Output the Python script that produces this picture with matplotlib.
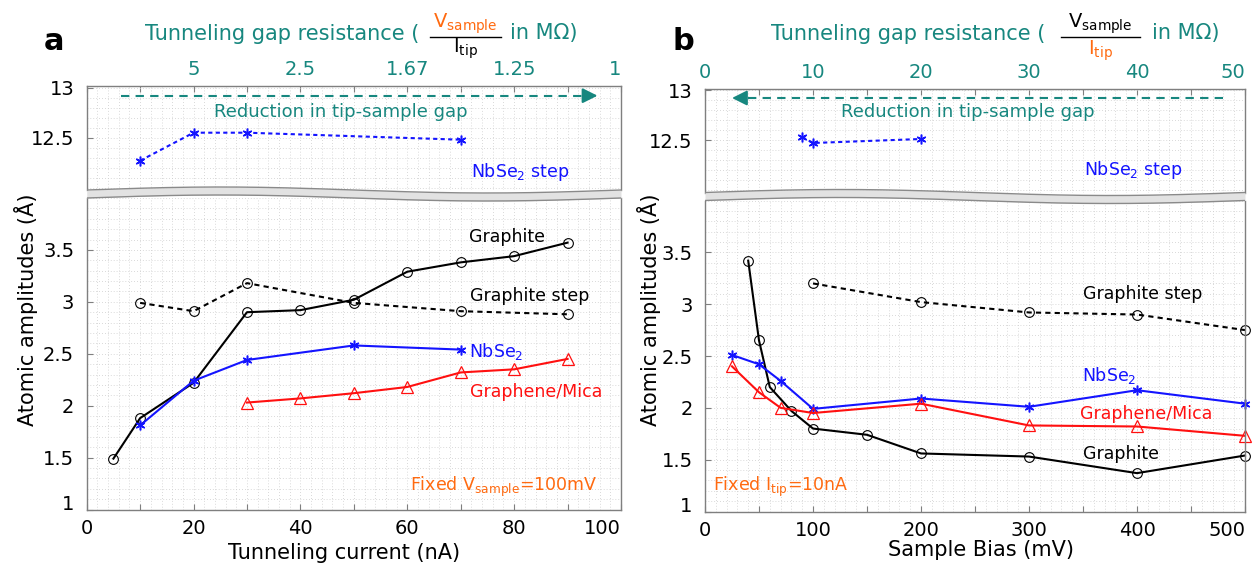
import numpy as np
import matplotlib
matplotlib.use("Agg")
import matplotlib.pyplot as plt
from matplotlib.ticker import MultipleLocator
from matplotlib.lines import Line2D

plt.rcParams['font.family'] = ['DejaVu Sans']
plt.rcParams['mathtext.default'] = 'regular'

W, H = 1256, 569
TEAL = '#17877f'
ORANGE = '#ff6a10'
BLUE = '#1414ff'
RED = '#ff1010'
GRID = '#cdcdcd'
SPINE = '#7f7f7f'

# ---- panel a: amplitude vs tunneling current (fixed bias 100 mV)
current_graphite = [5, 10, 20, 30, 40, 50, 60, 70, 80, 90]
graphite_a = [1.49, 1.88, 2.22, 2.90, 2.92, 3.02, 3.29, 3.38, 3.44, 3.57]
current_graphite_step = [10, 20, 30, 50, 70, 90]
graphite_step_a = [2.99, 2.91, 3.18, 2.99, 2.91, 2.88]
current_nbse2 = [10, 20, 30, 50, 70]
nbse2_a = [1.81, 2.24, 2.44, 2.58, 2.54]
current_mica = [30, 40, 50, 60, 70, 80, 90]
mica_a = [2.03, 2.07, 2.12, 2.18, 2.32, 2.35, 2.45]
current_nbse2_step = [10, 20, 30, 70]
nbse2_step_a = [12.27, 12.55, 12.55, 12.48]
resistance_labels_a = ['5', '2.5', '1.67', '1.25', '1']

# ---- panel b: amplitude vs sample bias (fixed current 10 nA)
bias_graphite = [40, 50, 60, 80, 100, 150, 200, 300, 400, 500]
graphite_b = [3.42, 2.65, 2.20, 1.97, 1.80, 1.74, 1.56, 1.53, 1.37, 1.54]
bias_graphite_step = [100, 200, 300, 400, 500]
graphite_step_b = [3.20, 3.02, 2.92, 2.90, 2.75]
bias_nbse2 = [25, 50, 70, 100, 200, 300, 400, 500]
nbse2_b = [2.51, 2.42, 2.26, 1.99, 2.09, 2.01, 2.17, 2.04]
bias_mica = [25, 50, 70, 100, 200, 300, 400, 500]
mica_b = [2.40, 2.15, 2.00, 1.95, 2.04, 1.83, 1.82, 1.73]
bias_nbse2_step = [90, 100, 200]
nbse2_step_b = [12.53, 12.47, 12.51]
resistance_labels_b = ['0', '10', '20', '30', '40', '50']


def px_ax(left, top, right, bottom):
    return fig.add_axes([left / W, 1 - bottom / H, (right - left) / W, (bottom - top) / H])


def ftext(x, y, s, **kw):
    return fig.text(x / W, 1 - y / H, s, **kw)


def style_axes(ax, xminor, yminor):
    for sp in ax.spines.values():
        sp.set_color(SPINE)
        sp.set_linewidth(1)
    ax.xaxis.set_minor_locator(MultipleLocator(xminor))
    ax.yaxis.set_minor_locator(MultipleLocator(yminor))
    ax.grid(True, which='both', color=GRID, linestyle=(0, (1, 2.5)), linewidth=0.6)
    ax.set_axisbelow(True)
    ax.tick_params(which='minor', length=0)
    ax.tick_params(which='major', direction='in', length=4, color=SPINE,
                   labelsize=14, labelcolor='black')


def draw_break(left, right, top, bottom):
    ax = px_ax(left, top - 6, right, bottom + 6)
    ax.set_xlim(0, 1)
    ax.set_ylim(bottom + 6, top - 6)
    ax.axis('off')
    t = np.linspace(0, 1, 300)
    wave = 3 * np.sin(2 * np.pi * t)
    ax.fill_between(t, top - wave, bottom - wave, color='#e2e2e2', lw=0)
    ax.plot(t, top - wave, color='#8a8a8a', lw=1)
    ax.plot(t, bottom - wave, color='#8a8a8a', lw=1)


fig = plt.figure(figsize=(W / 100, H / 100), dpi=100)

line_kw = dict(lw=1.5)
circ = dict(marker='o', ms=7, mfc='none', mew=0.8)
star = dict(marker=(6, 2, 0), ms=7, mew=1.1)
tri = dict(marker='^', ms=8, mfc='none', mew=0.9)

panels = [
    dict(left=86.7, right=621, ttop=86, tbot=190, btop=198, bbot=509.5, xmax=100,
         xmaj=10, xminor=2, tylim=(11.977, 13.017)),
    dict(left=705, right=1245, ttop=89, tbot=192.5, btop=200.5, bbot=511.5, xmax=500,
         xmaj=50, xminor=10, tylim=(11.975, 13.01)),
]

axes = []
for p in panels:
    at = px_ax(p['left'], p['ttop'], p['right'], p['tbot'])
    ab = px_ax(p['left'], p['btop'], p['right'], p['bbot'])
    for ax in (at, ab):
        ax.set_xlim(0, p['xmax'])
        style_axes(ax, p['xminor'], 0.1)
    at.set_ylim(*p['tylim'])
    ab.set_ylim(1, 4)
    at.spines['bottom'].set_visible(False)
    ab.spines['top'].set_visible(False)
    at.set_yticks([12.5, 13], labels=['12.5', '13'])
    ab.set_yticks([1, 1.5, 2, 2.5, 3, 3.5], labels=['1', '1.5', '2', '2.5', '3', '3.5'])
    ab.get_yticklabels()[0].set_va('baseline')
    at.xaxis.tick_top()
    at.tick_params(axis='x', which='major', labelcolor=TEAL, pad=5)
    ab.tick_params(axis='x', which='major', pad=7)
    ab.tick_params(axis='y', which='major', pad=9)
    at.tick_params(axis='y', which='major', pad=9)
    axes.append((at, ab))

(a_top, a_bot), (b_top, b_bot) = axes

# panel a ticks
ticks_a = np.arange(10, 101, 10)
a_bot.set_xticks(ticks_a, labels=[str(v) if v % 20 == 0 else '' for v in ticks_a])
a_bot.set_xticks([0] + list(ticks_a), labels=['0'] + [str(v) if v % 20 == 0 else '' for v in ticks_a])
top_a = ['']
for i, v in enumerate(ticks_a):
    top_a.append(resistance_labels_a[i // 2] if v % 20 == 0 else '')
a_top.set_xticks([0] + list(ticks_a), labels=top_a)

# panel b ticks
ticks_b = np.arange(0, 501, 50)
b_bot.set_xticks(ticks_b, labels=[str(v) if v % 100 == 0 else '' for v in ticks_b])
b_top.set_xticks(ticks_b, labels=[resistance_labels_b[v // 100] if v % 100 == 0 else '' for v in ticks_b])

for ax in (a_top, a_bot, b_top, b_bot):
    ax.get_xticklabels()[-1].set_ha('right')

# ---- data panel a
a_bot.plot(current_graphite, graphite_a, color='black', **line_kw, **circ)
a_bot.plot(current_graphite_step, graphite_step_a, color='black', ls=(0, (2.5, 2)), **line_kw, **circ)
a_bot.plot(current_nbse2, nbse2_a, color=BLUE, mec=BLUE, **line_kw, **star)
a_bot.plot(current_mica, mica_a, color=RED, mec=RED, **line_kw, **tri)
a_top.plot(current_nbse2_step, nbse2_step_a, color=BLUE, mec=BLUE, ls=(0, (2, 1.6)), **line_kw, **star)

# ---- data panel b
b_bot.plot(bias_graphite, graphite_b, color='black', **line_kw, **circ)
b_bot.plot(bias_graphite_step, graphite_step_b, color='black', ls=(0, (2.5, 2)), **line_kw, **circ)
b_bot.plot(bias_nbse2, nbse2_b, color=BLUE, mec=BLUE, **line_kw, **star)
b_bot.plot(bias_mica, mica_b, color=RED, mec=RED, **line_kw, **tri)
b_top.plot(bias_nbse2_step, nbse2_step_b, color=BLUE, mec=BLUE, ls=(0, (2, 1.6)), **line_kw, **star)

for ax in (a_top, a_bot, b_top, b_bot):
    for ln in ax.lines:
        ln.set_clip_on(False)

# ---- in-plot labels
lab = dict(fontsize=12.5, va='center', ha='left')
a_bot.text(71.5, 3.62, 'Graphite', color='black', **lab)
a_bot.text(71.8, 3.06, 'Graphite step', color='black', **lab)
a_bot.text(71.5, 2.52, 'NbSe$_2$', color=BLUE, **lab)
a_bot.text(71.8, 2.135, 'Graphene/Mica', color=RED, **lab)
a_bot.text(60.5, 1.22, 'Fixed V$_{sample}$=100mV', color=ORANGE, **lab)

b_bot.text(350, 3.10, 'Graphite step', color='black', **lab)
b_bot.text(349, 2.31, 'NbSe$_2$', color=BLUE, **lab)
b_bot.text(347.6, 1.944, 'Graphene/Mica', color=RED, **lab)
b_bot.text(350, 1.554, 'Graphite', color='black', **lab)
b_bot.text(7.8, 1.24, 'Fixed I$_{tip}$=10nA', color=ORANGE, **lab)

a_top.text(72, 12.16, 'NbSe$_2$ step', color=BLUE, **lab)
b_top.text(351, 12.2, 'NbSe$_2$ step', color=BLUE, **lab)

# ---- gap-reduction arrows
for ax, x0, x1, xt, yt in ((a_top, 6.4, 95.6, 47.6, 12.76), (b_top, 480, 25, 243, 12.78)):
    head = 2.6 * (x1 - x0) / abs(x1 - x0) * ax.get_xlim()[1] / 100
    ax.plot([x0, x1 - head], [12.92, 12.92], color=TEAL, lw=1.5, ls=(0, (4, 3)))
    ax.annotate('', xy=(x1, 12.92), xytext=(x1 - head, 12.92),
                arrowprops=dict(arrowstyle='-|>,head_length=0.9,head_width=0.45',
                                color=TEAL, lw=1.5, shrinkA=0, shrinkB=0))
    ax.text(xt, yt, 'Reduction in tip-sample gap', color=TEAL, fontsize=13,
            ha='center', va='center')

# ---- breaks between the two y ranges
draw_break(86.7, 621, 190, 198)
draw_break(705, 1245, 192.5, 200.5)

# ---- axis labels
ftext(344.5, 553, 'Tunneling current (nA)', fontsize=15, ha='center', va='center')
ftext(981, 550, 'Sample Bias (mV)', fontsize=15, ha='center', va='center')
ftext(26.5, 310, 'Atomic amplitudes (Å)', fontsize=15, ha='center', va='center', rotation=90)
ftext(649, 310, 'Atomic amplitudes (Å)', fontsize=15, ha='center', va='center', rotation=90)

# ---- top titles with fraction
for x_start, frac_l, frac_r, x_end, num_c, den_c, den_base in (
        (145, 430, 501, 510, ORANGE, 'black', 53),
        (771, 1061, 1140, 1152, 'black', ORANGE, 55)):
    ftext(x_start, 39.5, 'Tunneling gap resistance (', fontsize=15, color=TEAL, va='baseline')
    ftext(x_end, 39.5, 'in M\u03a9)', fontsize=15, color=TEAL, va='baseline')
    xc = (frac_l + frac_r) / 2
    ftext(xc, 28, 'V$_{sample}$', fontsize=14, color=num_c, ha='center', va='baseline')
    ftext(xc, den_base, 'I$_{tip}$', fontsize=14, color=den_c, ha='center', va='baseline')
    fig.add_artist(Line2D([frac_l / W, frac_r / W], [1 - 36.5 / H, 1 - 36.5 / H],
                          transform=fig.transFigure, color='black', lw=1))

ftext(53.7, 50, 'a', fontsize=22, fontweight='bold', ha='center', va='baseline')
ftext(683, 50, 'b', fontsize=22, fontweight='bold', ha='center', va='baseline')

fig.savefig('out.png', dpi=100)
